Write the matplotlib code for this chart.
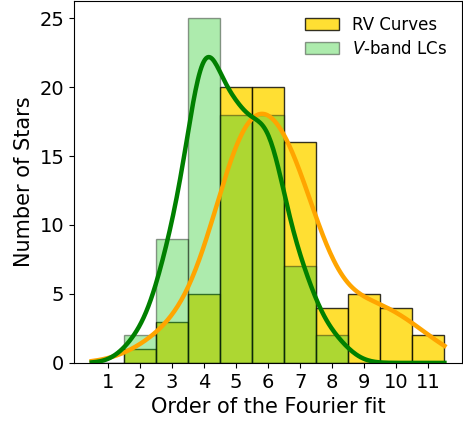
import numpy as np
import matplotlib.pyplot as plt

# Fourier order of the best fit, and how many stars need each order
orders = np.arange(1, 12)
rv_counts = np.array([0, 1, 3, 5, 20, 20, 16, 4, 5, 4, 2])
lc_counts = np.array([0, 2, 9, 25, 18, 18, 7, 2, 0, 0, 0])


def kde_curve(x, values, counts, bw_adjust=1.0):
    # gaussian kde (Scott's rule), scaled to counts per unit bin
    n = counts.sum()
    mean = np.sum(values * counts) / n
    std = np.sqrt(np.sum(counts * (values - mean) ** 2) / (n - 1))
    bw = bw_adjust * std * n ** (-1. / 5)
    dens = np.zeros_like(x)
    for v, c in zip(values, counts):
        dens += c * np.exp(-0.5 * ((x - v) / bw) ** 2) / (bw * np.sqrt(2 * np.pi))
    return dens


fig = plt.figure(figsize=(4.63, 4.21), dpi=100)
ax = fig.add_axes([0.160, 0.138, 0.838, 0.86])

ax.bar(orders, rv_counts, width=1.0, color='gold', alpha=0.8,
       edgecolor='black', linewidth=1, label='RV Curves')
ax.bar(orders, lc_counts, width=1.0, color='limegreen', alpha=0.4,
       edgecolor='black', linewidth=1, label='$V$-band LCs')

xs = np.linspace(0.5, 11.5, 300)
ax.plot(xs, kde_curve(xs, orders, rv_counts, 1.15), color='orange', lw=3.2)
ax.plot(xs, kde_curve(xs, orders, lc_counts), color='green', lw=3.2)

ax.set_xlim(-0.05, 12.05)
ax.set_ylim(0, 26.25)
ax.set_xticks(orders)
ax.set_yticks([0, 5, 10, 15, 20, 25])
ax.tick_params(labelsize=14)
ax.set_xlabel('Order of the Fourier fit', fontsize=15)
ax.set_ylabel('Number of Stars', fontsize=15)
ax.legend(loc='upper right', fontsize=12, frameon=False, labelspacing=0.35)

plt.savefig('out.png', dpi=100)
